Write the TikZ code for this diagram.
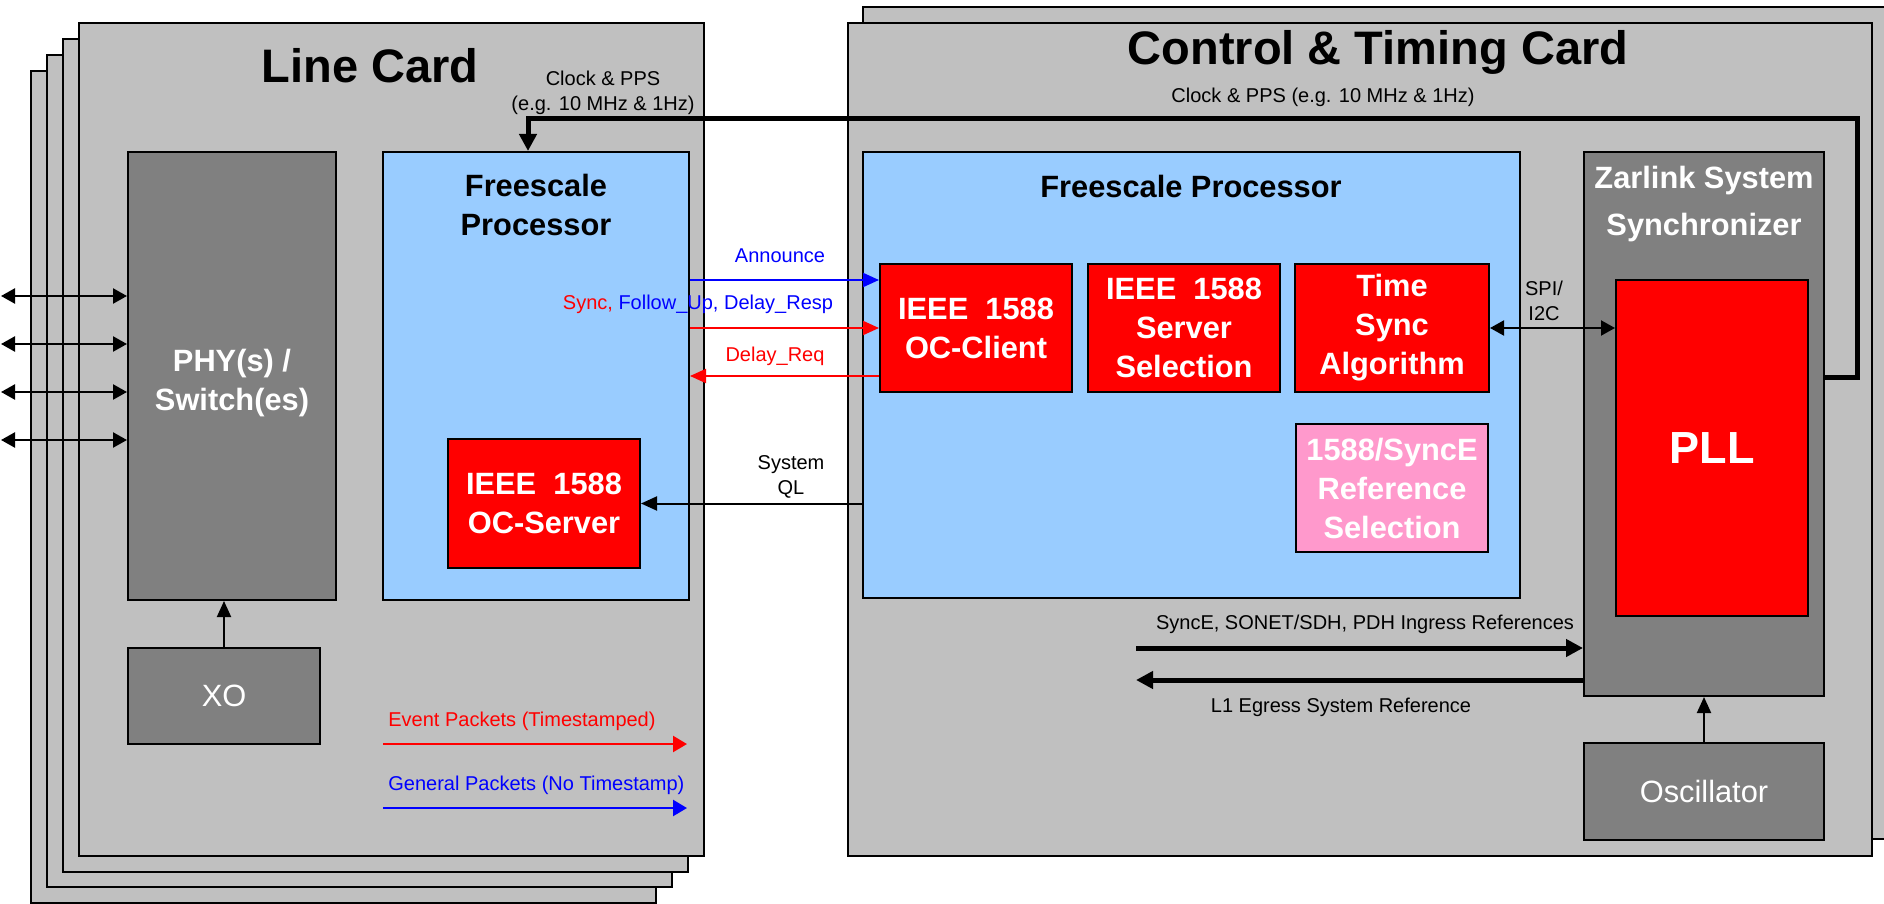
\documentclass[tikz,border=0pt]{standalone}
\usepackage{fontspec}
\setmainfont{Liberation Sans}
\usetikzlibrary{arrows.meta,fit}
\definecolor{cardgray}{HTML}{C0C0C0}
\definecolor{blockgray}{HTML}{808080}
\definecolor{procblue}{HTML}{99CCFF}
\definecolor{pinkbox}{HTML}{FF99CC}
\definecolor{evred}{HTML}{FF0000}
\definecolor{genblue}{HTML}{0000FF}
\newcommand\ttlfnt{\fontsize{23.5}{28}\selectfont\bfseries}
\newcommand\bfnt{\fontsize{15.4}{19.5}\selectfont\bfseries}
\newcommand\nfnt{\fontsize{15.4}{19.5}\selectfont}
\newcommand\lfnt{\fontsize{10}{12.5}\selectfont}
\begin{document}
\begin{tikzpicture}[x=0.5pt,y=-0.5pt,
  card/.style={draw=black, line width=1.2pt, fill=cardgray, inner sep=0pt},
  blk/.style={draw=black, line width=1pt, inner sep=0pt, align=center},
  grayblk/.style={blk, fill=blockgray, text=white},
  redblk/.style={blk, fill=evred, text=white, font=\bfnt},
  procblk/.style={blk, fill=procblue},
  lbl/.style={font=\lfnt, inner sep=0pt},
  thinarr/.style={line width=1pt, -{Triangle[length=8pt,width=7pt]}},
  dblarr/.style={line width=1.2pt, {Triangle[length=7pt,width=7.5pt]}-{Triangle[length=7pt,width=7.5pt]}},
  thickarr/.style={line width=2.5pt, -{Triangle[length=8.5pt,width=8.5pt]}},
]
\useasboundingbox[fill=white] (0,0) rectangle (1884,904);

% ---------- Line card stack ----------
\node[card, fit={(31,71)(656,903)}] (lc4) {};
\node[card, fit={(47,55)(672,887)}] (lc3) {};
\node[card, fit={(63,39)(688,872)}] (lc2) {};
\node[card, fit={(79,23)(704,856)}] (lc) {};
\node[font=\ttlfnt, anchor=base] (lctitle) at (370,83) {Line Card};

% ---------- Control & Timing card ----------
\node[card, fit={(863,7)(1892,839)}] (ct2) {};
\node[card, fit={(848,23)(1872,856)}] (ct) {};
\node[font=\ttlfnt, anchor=base] (cttitle) at (1378,65) {Control \& Timing Card};

% ---------- Line card blocks ----------
\node[grayblk, minimum width=104pt, minimum height=224pt] (phy) at (232,376) {};
\node[font=\bfnt, text=white, align=center, inner sep=0pt] (phytext) at (232,383) {PHY(s) /\\Switch(es)};
\node[grayblk, font=\nfnt, minimum width=96pt, minimum height=48pt] (xo) at (224,696) {XO};
\node[procblk, minimum width=153pt, minimum height=224pt] (lcp) at (536,376) {};
\node[font=\bfnt, align=center, inner sep=0pt] (lcptitle) at (536,205) {Freescale\\Processor};
\node[redblk, minimum width=96pt, minimum height=64.5pt] (ocs) at (544,503.5) {IEEE~ 1588\\OC-Server};

% ---------- Control card blocks ----------
\node[procblk, minimum width=328.5pt, minimum height=223pt] (ctp) at (1191.5,375) {};
\node[font=\bfnt, anchor=base, inner sep=0pt] (ctptitle) at (1191,197) {Freescale Processor};
\node[redblk, minimum width=96pt, minimum height=64pt] (occ) at (976,328) {IEEE~ 1588\\OC-Client};
\node[redblk, minimum width=96pt, minimum height=64pt] (sss) at (1184,328) {IEEE~ 1588\\Server\\Selection};
\node[redblk, minimum width=97pt, minimum height=64pt] (tsa) at (1392,328) {Time\\Sync\\Algorithm};
\node[blk, fill=pinkbox, text=white, font=\bfnt, minimum width=96pt, minimum height=64pt] (rsel) at (1392,488) {1588/SyncE\\Reference\\Selection};
\node[grayblk, minimum width=120pt, minimum height=272pt] (zar) at (1704,424) {};
\node[font=\fontsize{15.4}{23.5}\selectfont\bfseries, text=white, align=center, inner sep=0pt] (zartitle) at (1704,204) {Zarlink System\\Synchronizer};
\node[redblk, font=\fontsize{22.5}{27}\selectfont\bfseries, minimum width=96pt, minimum height=168pt] (pll) at (1712,448) {PLL};
\node[grayblk, font=\nfnt, minimum width=120pt, minimum height=48.5pt] (osc) at (1704,791.5) {Oscillator};

% ---------- Clock & PPS ----------
\coordinate (clkstart) at (1824,377);
\coordinate (clkbend) at (528,119);
\draw[thickarr] (clkstart) -- (1857,377) -- (1857,119) -- (clkbend) -- (clkbend |- lcp.north);
\node[lbl, align=center] (lcclk) at (603,93) {Clock \& PPS\\(e.g. 10 MHz \& 1Hz)};
\node[lbl, anchor=base] (ctclk) at (1323,103) {Clock \& PPS (e.g. 10 MHz \& 1Hz)};

% ---------- PHY ports ----------
\foreach \yy [count=\i] in {296,344,392,440} {
  \coordinate (port\i) at (1,\yy);
  \draw[dblarr] (port\i) -- (port\i -| phy.west);
}
\draw[thinarr] (xo.north) -- (xo.north |- phy.south);

% ---------- Packet flows ----------
\coordinate (yann) at (0,280);
\coordinate (ysync) at (0,328);
\coordinate (ydreq) at (0,376);
\draw[thinarr, genblue] (lcp.east |- yann) -- (occ.west |- yann);
\draw[thinarr, evred] (lcp.east |- ysync) -- (occ.west |- ysync);
\draw[thinarr, evred] (occ.west |- ydreq) -- (lcp.east |- ydreq);
\node[lbl, anchor=base, text=genblue] (lann) at (780,262) {Announce};
\node[lbl, anchor=base] (lsync) at (698,309) {\textcolor{evred}{Sync,} \textcolor{genblue}{Follow\_Up, Delay\_Resp}};
\node[lbl, anchor=base, text=evred] (ldreq) at (775,361) {Delay\_Req};
\draw[thinarr] (ctp.west |- ocs.east) -- (ocs.east);
\node[lbl, align=center] (lql) at (791,477) {System\\QL};

% ---------- SPI / I2C ----------
\draw[dblarr, line width=1pt] (tsa.east) -- (pll.west |- tsa.east);
\node[lbl, align=center] (lspi) at (1544,301) {SPI/\\I2C};

% ---------- Ingress / egress ----------
\coordinate (ingress) at (1136,648);
\coordinate (egress) at (1136,680);
\draw[thickarr] (ingress) -- (ingress -| zar.west);
\draw[thickarr] (egress -| zar.west) -- (egress);
\node[lbl, anchor=base] (ling) at (1365,629) {SyncE, SONET/SDH, PDH Ingress References};
\node[lbl, anchor=base] (legr) at (1341,712) {L1 Egress System Reference};
\draw[thinarr] (osc.north) -- (osc.north |- zar.south);

% ---------- Legend ----------
\coordinate (ev1) at (383,744);
\coordinate (ev2) at (687,744);
\coordinate (gp1) at (383,808);
\coordinate (gp2) at (687,808);
\draw[evred, line width=1.2pt, -{Triangle[length=7pt,width=8pt]}] (ev1) -- (ev2);
\draw[genblue, line width=1.2pt, -{Triangle[length=7pt,width=8pt]}] (gp1) -- (gp2);
\node[lbl, anchor=base west, text=evred] (lev) at (388,726) {Event Packets (Timestamped)};
\node[lbl, anchor=base west, text=genblue] (lgp) at (388,790) {General Packets (No Timestamp)};
\end{tikzpicture}
\end{document}
